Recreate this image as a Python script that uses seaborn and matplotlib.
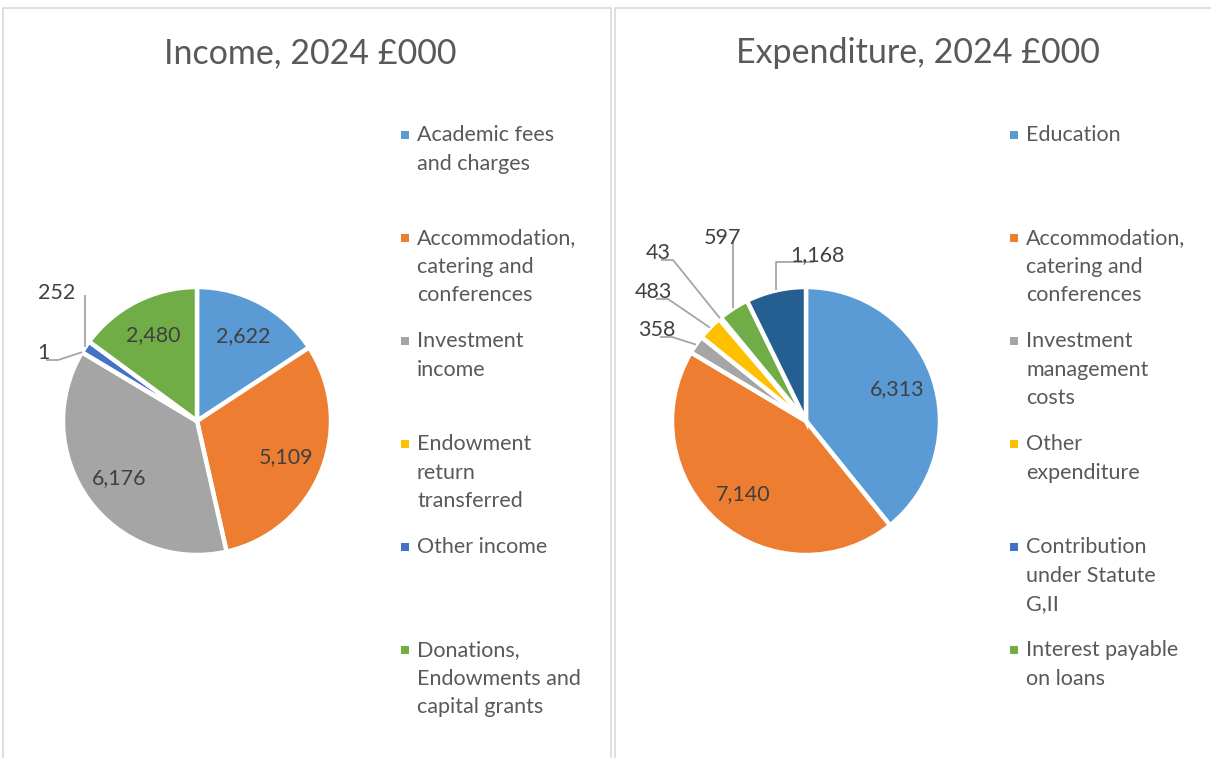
"""Income and expenditure pies, 2024 (GBP thousands)"""

import matplotlib

matplotlib.use("Agg")
import matplotlib.pyplot as plt
import numpy as np
import seaborn as sns

income_labels = [
    "Academic fees\nand charges",
    "Accommodation,\ncatering and\nconferences",
    "Investment\nincome",
    "Endowment\nreturn\ntransferred",
    "Other income",
    "Donations,\nEndowments and\ncapital grants",
]
income_values = [2622, 5109, 6176, 1, 252, 2480]

expend_labels = [
    "Education",
    "Accommodation,\ncatering and\nconferences",
    "Investment\nmanagement\ncosts",
    "Other\nexpenditure",
    "Contribution\nunder Statute\nG,II",
    "Interest payable\non loans",
]
# seventh slice has no visible legend entry in the source
expend_values = [6313, 7140, 358, 483, 43, 597, 1168]

palette = sns.color_palette(
    ["#5B9BD5", "#ED7D31", "#A5A5A5", "#FFC000", "#4472C4", "#70AD47", "#255E91"]
)

TEXT = "#595959"
LABEL = "#404040"
LEADER = "#A6A6A6"
W, H = 1211, 758
R = 134

sns.set_theme(style="white")
plt.rcParams["font.family"] = ["Lato", "DejaVu Sans"]

fig = plt.figure(figsize=(W / 100, H / 100), dpi=100)
ax = fig.add_axes([0, 0, 1, 1])


def draw_pie(cx, cy, values, outside):
    """pie with inside labels for big slices, leader labels for small ones"""
    wedges, _ = ax.pie(
        values,
        colors=palette[: len(values)],
        startangle=90,
        counterclock=False,
        radius=R,
        center=(cx, cy),
        wedgeprops=dict(edgecolor="white", linewidth=3.2),
    )
    fig.canvas.draw()
    inv = ax.transData.inverted()
    for i, (w, v) in enumerate(zip(wedges, values)):
        mid = np.deg2rad((w.theta1 + w.theta2) / 2)
        if i not in outside:
            ax.text(cx + 0.72 * R * np.cos(mid), cy + 0.72 * R * np.sin(mid),
                    f"{v:,}", ha="center", va="center", fontsize=15.5, color=LABEL)
            continue
        dx, dy, kind = outside[i]
        ex, ey = cx + R * np.cos(mid), cy + R * np.sin(mid)
        tx, ty = cx + dx, cy + dy
        t = ax.text(tx, ty, f"{v:,}", ha="center", va="center", fontsize=15.5,
                    color=LABEL)
        bb = t.get_window_extent(fig.canvas.get_renderer()).transformed(inv)
        if kind == "side":
            x0 = bb.x1 + 3
            xs, ys = [x0, x0 + 12, ex], [ty - 7, ty - 7, ey]
        elif kind == "left":
            x0 = bb.x0 - 3
            xs, ys = [x0, ex, ex], [ty - 7, ty - 7, ey]
        else:
            xs, ys = [ex, ex], [bb.y0 - 2, ey]
        ax.plot(xs, ys, color=LEADER, lw=1.3, solid_capstyle="butt")


def draw_legend(x, labels):
    for i, lab in enumerate(labels):
        y = H - 135 - i * 103
        ax.scatter([x], [y], marker="s", s=36, color=palette[i], linewidths=0)
        for k, line in enumerate(lab.split("\n")):
            ax.text(x + 12, y - k * 28.7, line, ha="left", va="center",
                    fontsize=15.5, color=TEXT)


# panel borders
border = dict(color="#D9D9D9", lw=1.2)
ax.plot([3, 3, 611, 611], [0, H - 8, H - 8, 0], **border)
ax.plot([615, 615, W + 5], [0, H - 8, H - 8], **border)

draw_pie(197, H - 421, income_values,
         {3: (-154, 68, "side"), 4: (-140, 128, "down")})
draw_pie(806, H - 421, expend_values,
         {2: (-149, 91, "side"), 3: (-153, 129, "side"), 4: (-148, 168, "side"),
          5: (-83, 183, "down"), 6: (11, 166, "left")})

draw_legend(405, income_labels)
draw_legend(1014, expend_labels)

ax.text(310, H - 53, "Income, 2024 £000", ha="center", va="center",
        fontsize=24.5, color=TEXT)
ax.text(918, H - 53, "Expenditure, 2024 £000", ha="center", va="center",
        fontsize=24.5, color=TEXT)

ax.set_xlim(0, W)
ax.set_ylim(0, H)
ax.set_aspect("auto")
ax.axis("off")

fig.savefig("out.png", dpi=100, facecolor="white")
